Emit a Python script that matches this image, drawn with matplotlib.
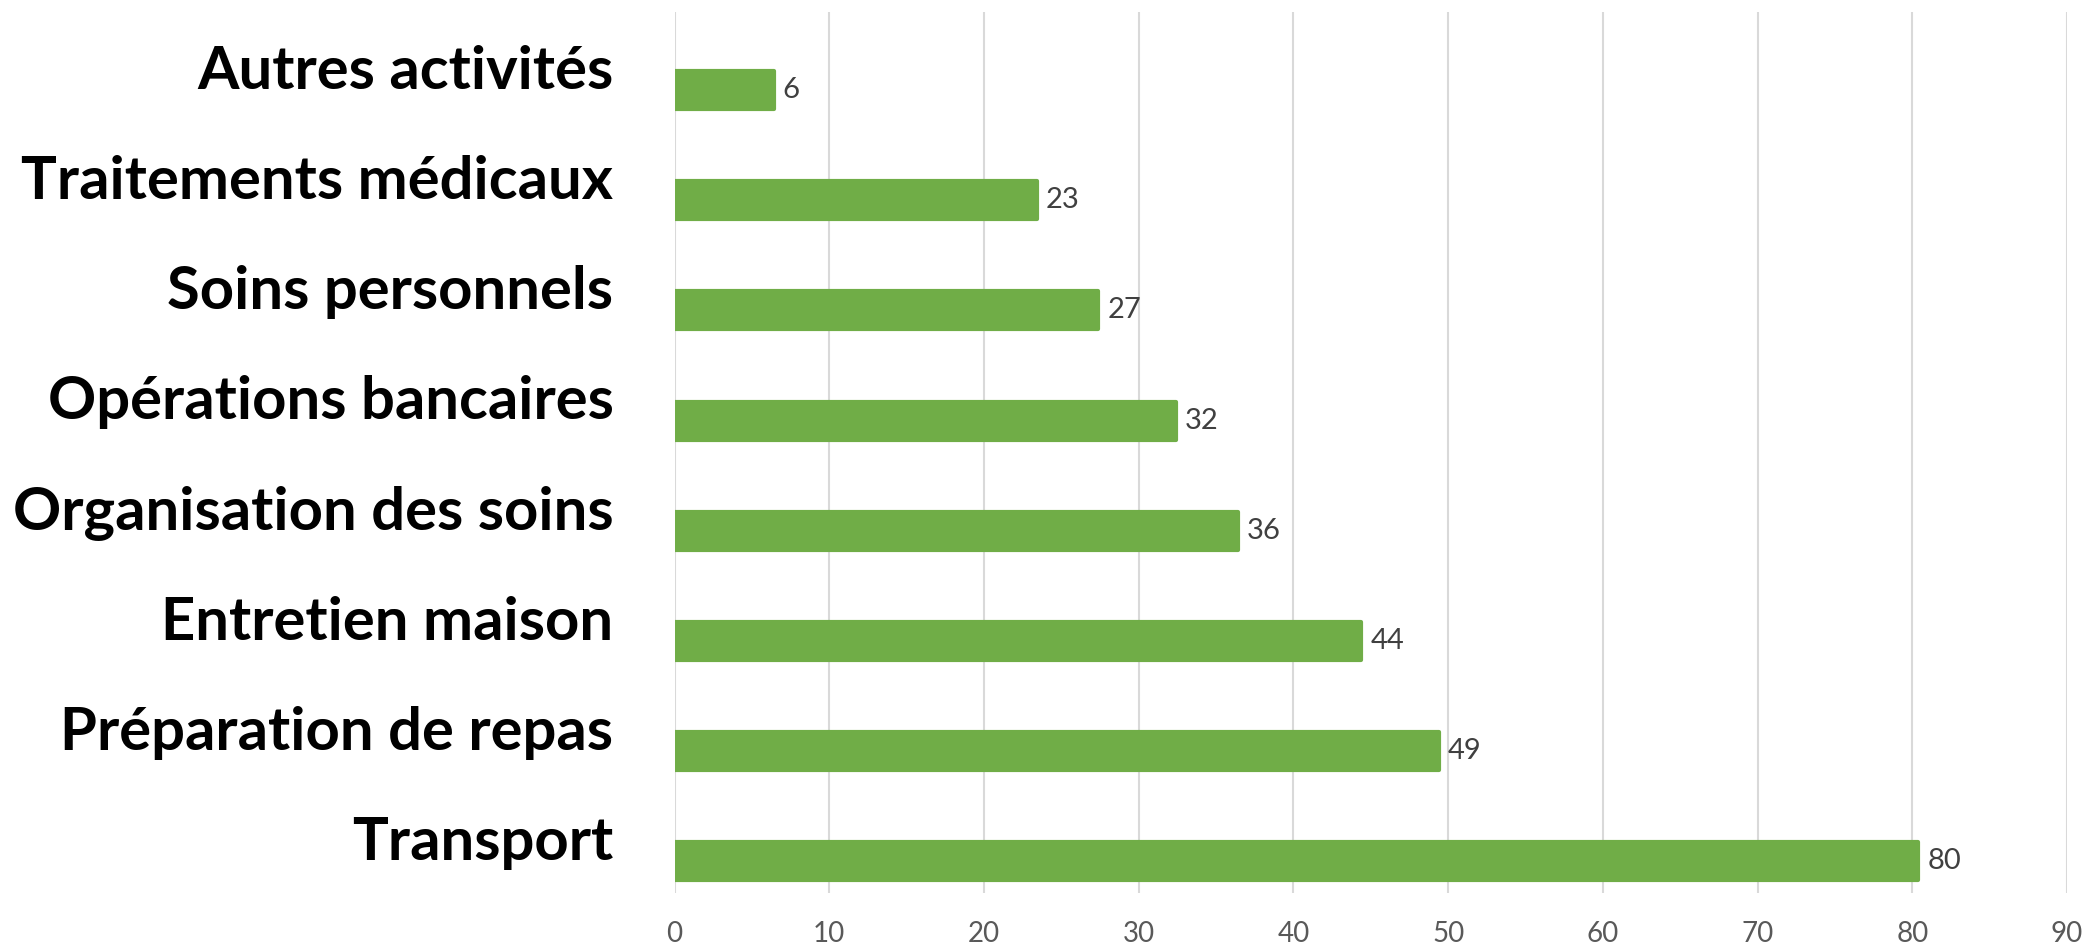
import matplotlib
matplotlib.use("Agg")
import matplotlib.pyplot as plt
import numpy as np

categories = ["Transport", "Préparation de repas", "Entretien maison",
              "Organisation des soins", "Opérations bancaires",
              "Soins personnels", "Traitements médicaux", "Autres activités"]
values = [80.4, 49.4, 44.4, 36.4, 32.4, 27.4, 23.4, 6.4]
labels = ["80", "49", "44", "36", "32", "27", "23", "6"]
xticks = [0, 10, 20, 30, 40, 50, 60, 70, 80, 90]

GREEN = "#70AD47"

fig = plt.figure(figsize=(20.88, 9.47), dpi=100)
ax = fig.add_axes([674.5/2088, 1-893/947, (2067-674.5)/2088, (893-12)/947])

y = np.arange(len(categories))
offset = -0.21
bars = ax.barh(y + offset, values, height=0.345, color=GREEN,
               edgecolor=GREEN, linewidth=3, zorder=3)
for b in bars:
    b.set_joinstyle("round")

for yi, v, lab in zip(y, values, labels):
    ax.annotate(lab, (v, yi + offset), xytext=(9, 0), textcoords="offset pixels",
                ha="left", va="center", fontsize=21, color="#404040",
                family="Lato", zorder=4)

ax.set_xlim(0, 90)
ax.set_ylim(-0.5, len(categories) - 0.5)
ax.set_xticks(xticks)
ax.set_xticklabels([str(t) for t in xticks], fontsize=20, color="#595959", family="Lato")
ax.set_yticks(y)
ax.set_yticklabels(categories, fontsize=43, fontweight="bold", color="black", family="Lato")
ax.tick_params(axis="y", length=0, pad=44)
ax.tick_params(axis="x", length=0, pad=20)
ax.grid(axis="x", color="#D9D9D9", linewidth=1.5, zorder=0)
ax.set_axisbelow(True)
for s in ax.spines.values():
    s.set_visible(False)

fig.savefig("out.png", dpi=100)
